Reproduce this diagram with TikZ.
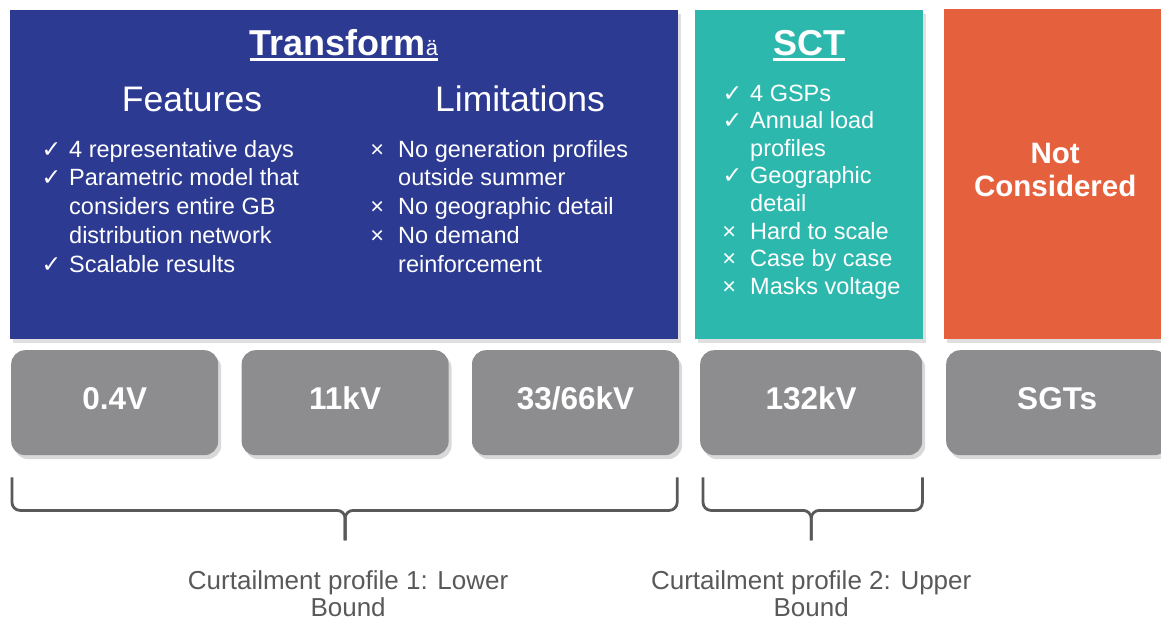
\documentclass[tikz,border=0pt]{standalone}
\usepackage{fontspec}
\setmainfont{Liberation Sans}
\newfontfamily\symfont{DejaVu Sans}
\usetikzlibrary{positioning,calc,shadows}

\definecolor{tfblue}{HTML}{2C3A92}
\definecolor{sctteal}{HTML}{2DB8AE}
\definecolor{ncorange}{HTML}{E5603D}
\definecolor{voltgrey}{HTML}{8D8D8F}
\definecolor{capgrey}{HTML}{595959}

\newcommand{\ok}{\llap{{\symfont ✓}\hspace{8pt}}}
\newcommand{\no}{\llap{×\hspace{14pt}}}

\begin{document}
\begin{tikzpicture}[
  x=1pt, y=-1pt,
  panel/.style={
    anchor=north west, inner sep=0pt,
    drop shadow={shadow xshift=3pt, shadow yshift=-4pt, opacity=.25}
  },
  titletext/.style={anchor=base, inner sep=0pt, text=white,
    font=\fontsize{36}{40}\selectfont\bfseries},
  coltext/.style={anchor=base, inner sep=0pt, text=white,
    font=\fontsize{35.5}{40}\selectfont},
  itemtext/.style={anchor=base west, inner sep=0pt, text=white,
    font=\fontsize{23.5}{28}\selectfont},
  uline/.style={white, line width=3.5pt},
  volt/.style={
    fill=voltgrey, rounded corners=14pt,
    minimum width=207pt, minimum height=105pt,
    text height=22pt, text depth=9pt, % lifts the label a little
    text=white, font=\fontsize{31.5}{36}\selectfont\bfseries,
    drop shadow={shadow xshift=3pt, shadow yshift=-4pt, opacity=.3}
  },
  bracelink/.style={capgrey, line width=2.8pt, rounded corners=8pt},
  caption/.style={text=capgrey, align=center, inner sep=0pt,
    font=\fontsize{26}{27}\selectfont}
]
\useasboundingbox (0,0) rectangle (1161,622);

% --- Panels ---
\node[panel, fill=tfblue, minimum width=668pt, minimum height=329pt] (tfBox) at (10,10) {};
\node[panel, fill=sctteal, minimum width=228pt, minimum height=329pt] (sctBox) at (695,10) {};
\node[panel, fill=ncorange, minimum width=222pt, minimum height=330pt] (ncBox) at (944,9) {};

% --- Transforma ---
\node[titletext] (tfTitle) at (344,55) {Transform{\fontsize{22}{22}\selectfont\mdseries ä}};
\draw[uline] ([yshift=-4.5pt]tfTitle.base west) -- ([yshift=-4.5pt]tfTitle.base east);

\node[coltext] (feat) at (192,111) {Features};
\node[coltext] (lim) at (520,111) {Limitations};

\foreach \s/\t [count=\i] in {\ok/4 representative days, \ok/Parametric model that,
  /considers entire GB, /distribution network, \ok/Scalable results} {
  \node[itemtext] (f\i) at (69,{157+28.75*(\i-1)}) {\s\t};
}
\foreach \s/\t [count=\i] in {\no/No generation profiles, /outside summer,
  \no/No geographic detail, \no/No demand, /reinforcement} {
  \node[itemtext] (l\i) at (398,{157+28.75*(\i-1)}) {\s\t};
}

% --- SCT ---
\node[titletext] (sctTitle) at (809,55) {SCT};
\draw[uline] ([yshift=-4.5pt]sctTitle.base west) -- ([yshift=-4.5pt]sctTitle.base east);

\foreach \s/\t [count=\i] in {\ok/4 GSPs, \ok/Annual load, /profiles, \ok/Geographic,
  /detail, \no/Hard to scale, \no/Case by case, \no/Masks voltage} {
  \node[itemtext] (s\i) at (750,{101+27.6*(\i-1)}) {\s\t};
}

% --- Not considered ---
\node[text=white, align=center, inner sep=0pt, font=\fontsize{29.5}{33}\selectfont\bfseries]
  (ncText) at (ncBox.center |- 0,170) {Not\\Considered};

% --- Voltage levels ---
\foreach \v [count=\i] in {0.4V,11kV,33/66kV} {
  \ifnum\i=1
    \node[volt, anchor=north west] (v\i) at (11,350) {\v};
  \else
    \node[volt, right=23pt of v\the\numexpr\i-1\relax] (v\i) {\v};
  \fi
}
\node[volt, minimum width=222pt, anchor=north west] (v4) at (700,350) {132kV};
\node[volt, minimum width=222pt, anchor=north west] (v5) at (946,350) {SGTs};

% --- Curtailment profiles ---
\coordinate (tip1) at ($(v1.south west)!.5!(v3.south east)+(0,85)$);
\coordinate (tip2) at ($(v4.south west)!.5!(v4.south east)+(0,85)$);

\draw[bracelink] ([xshift=1pt,yshift=-22pt]v1.south west) |- ([yshift=30pt]tip1) -- (tip1);
\draw[bracelink] ([xshift=-2pt,yshift=-22pt]v3.south east) |- ([yshift=30pt]tip1) -- (tip1);
\draw[bracelink] ([xshift=3pt,yshift=-22pt]v4.south west) |- ([yshift=30pt]tip2) -- (tip2);
\draw[bracelink] ([yshift=-22pt]v4.south east) |- ([yshift=30pt]tip2) -- (tip2);

\node[caption, below=30pt of tip1, xshift=3pt] (cap1) {Curtailment profile 1: Lower\\Bound};
\node[caption, below=30pt of tip2] (cap2) {Curtailment profile 2: Upper\\Bound};

\end{tikzpicture}
\end{document}
